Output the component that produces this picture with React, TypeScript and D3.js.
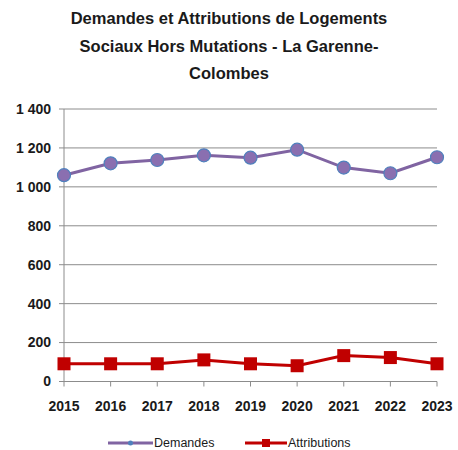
import React from 'react';
import * as d3 from 'd3';

const years = ['2015', '2016', '2017', '2018', '2019', '2020', '2021', '2022', '2023'];
const demandes = [1060, 1121, 1138, 1162, 1150, 1191, 1099, 1070, 1152];
const attributions = [91, 91, 91, 111, 91, 81, 133, 123, 91];
const yTicks = [0, 200, 400, 600, 800, 1000, 1200, 1400];
const titleLines = [
  'Demandes et Attributions de Logements',
  'Sociaux Hors Mutations - La Garenne-',
  'Colombes',
];

const FONT = "'Liberation Sans', Arial, sans-serif";

export default function App() {
  const width = 458;
  const height = 450;
  const left = 64;
  const right = 437;
  const top = 109;
  const bottom = 381.5;

  const x = d3.scalePoint<string>().domain(years).range([left, right]);
  const y = d3.scaleLinear().domain([0, 1400]).range([bottom, top]);
  const line = d3
    .line<number>()
    .x((_, i) => x(years[i]) as number)
    .y((d) => y(d));

  const fmt = (v: number) => d3.format(',')(v).replace(',', ' ');

  return (
    <svg
      width={width}
      height={height}
      style={{ position: 'absolute', left: 0, top: 0, background: '#fff' }}
      fontFamily={FONT}
    >
      {titleLines.map((t, i) => (
        <text
          key={t}
          x={229}
          y={24 + i * 27.5}
          textAnchor="middle"
          fontSize={16.5}
          fontWeight="bold"
          fill="#1a1a1a"
        >
          {t}
        </text>
      ))}

      {yTicks.map((t) => (
        <g key={t}>
          {t > 0 && (
            <line x1={left} x2={right} y1={y(t)} y2={y(t)} stroke="#8c8c8c" strokeWidth={1} />
          )}
          <line x1={left - 5} x2={left} y1={y(t)} y2={y(t)} stroke="#8c8c8c" />
          <text
            x={left - 13}
            y={y(t)}
            dy="0.35em"
            textAnchor="end"
            fontSize={14}
            fontWeight="bold"
            fill="#1a1a1a"
          >
            {fmt(t)}
          </text>
        </g>
      ))}
      <line x1={left} x2={left} y1={top} y2={bottom} stroke="#8c8c8c" />
      <line x1={left} x2={right} y1={bottom} y2={bottom} stroke="#8c8c8c" />
      {years.map((yr) => (
        <g key={yr}>
          <line
            x1={x(yr)}
            x2={x(yr)}
            y1={bottom}
            y2={bottom + 5}
            stroke="#8c8c8c"
          />
          <text
            x={x(yr)}
            y={bottom + 29}
            textAnchor="middle"
            fontSize={14}
            fontWeight="bold"
            fill="#1a1a1a"
          >
            {yr}
          </text>
        </g>
      ))}

      <path d={line(demandes) || ''} fill="none" stroke="#8064a2" strokeWidth={3} />
      {demandes.map((d, i) => (
        <circle
          key={i}
          cx={x(years[i])}
          cy={y(d)}
          r={6.5}
          fill="#8a6fb0"
          stroke="#4f81bd"
          strokeWidth={1.2}
        />
      ))}

      <path d={line(attributions) || ''} fill="none" stroke="#c00000" strokeWidth={3} />
      {attributions.map((d, i) => (
        <rect
          key={i}
          x={(x(years[i]) as number) - 6.5}
          y={y(d) - 6.5}
          width={13}
          height={13}
          fill="#c00000"
        />
      ))}

      <g transform="translate(0,443)">
        <line x1={108} x2={153} y1={0} y2={0} stroke="#8064a2" strokeWidth={3} />
        <circle cx={130.5} cy={0} r={2.5} fill="#4f81bd" />
        <text x={154} y={0} dy="0.35em" fontSize={12.5} fill="#1a1a1a">
          Demandes
        </text>
        <line x1={245} x2={287} y1={0} y2={0} stroke="#c00000" strokeWidth={3} />
        <rect x={262} y={-4} width={8} height={8} fill="#c00000" />
        <text x={288} y={0} dy="0.35em" fontSize={12.5} fill="#1a1a1a">
          Attributions
        </text>
      </g>
    </svg>
  );
}
